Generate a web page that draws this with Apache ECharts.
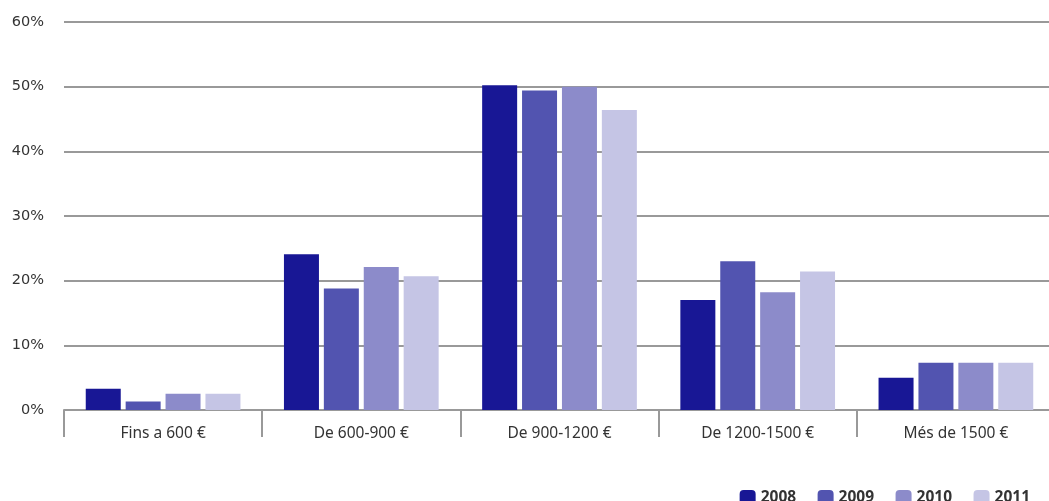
<!DOCTYPE html>
<html>
<head>
<meta charset="utf-8">
<script src="https://cdn.jsdelivr.net/npm/echarts@6/dist/echarts.min.js"></script>
<style>html,body{margin:0;padding:0;background:#fff;overflow:hidden;width:1049px;height:501px}#c{width:1055px;height:501px}</style>
</head>
<body>
<div id="c"></div>
<script>
const categories = ['Fins a 600 €', 'De 600-900 €', 'De 900-1200 €', 'De 1200-1500 €', 'Més de 1500 €'];
const years = ['2008', '2009', '2010', '2011'];
const s2008 = [3.3, 24.1, 50.2, 17.0, 5.0];
const s2009 = [1.3, 18.8, 49.4, 23.0, 7.3];
const s2010 = [2.5, 22.1, 50.0, 18.2, 7.3];
const s2011 = [2.5, 20.7, 46.4, 21.4, 7.3];
const colors = ['#181795', '#5254b0', '#8c8bca', '#c5c5e5'];
const yTicks = [0, 10, 20, 30, 40, 50, 60];

const seriesData = [s2008, s2009, s2010, s2011];
const chart = echarts.init(document.getElementById('c'));
chart.setOption({
  animation: false,
  textStyle: { fontFamily: 'Noto Sans' },
  grid: { left: 64, right: 0, top: 22, bottom: 91, containLabel: false },
  legend: {
    data: years,
    right: 20, top: 485,
    itemWidth: 16, itemHeight: 16, itemGap: 21.5,
    icon: 'roundRect',
    textStyle: { fontFamily: 'Noto Sans', fontSize: 15.5, fontWeight: 'bold', color: '#333' }
  },
  xAxis: {
    type: 'category',
    data: categories,
    axisLine: { lineStyle: { color: '#999', width: 2 } },
    axisTick: { show: true, length: 27, lineStyle: { color: '#999', width: 2 } },
    axisLabel: { color: '#333', fontSize: 15.5, margin: 16, fontFamily: 'Noto Sans' }
  },
  yAxis: {
    type: 'value', min: yTicks[0], max: yTicks[yTicks.length - 1], interval: 10,
    axisLine: { show: false }, axisTick: { show: false },
    axisLabel: { color: '#333', fontSize: 14.5, margin: 20, fontFamily: 'DejaVu Sans', formatter: v => v + '%' },
    splitLine: { lineStyle: { color: '#999', width: 2 } }
  },
  series: years.map((y, i) => ({
    name: y, type: 'bar', data: seriesData[i],
    barWidth: 35, barGap: '14%',
    itemStyle: { color: colors[i] }
  }))
});
</script>
</body>
</html>
